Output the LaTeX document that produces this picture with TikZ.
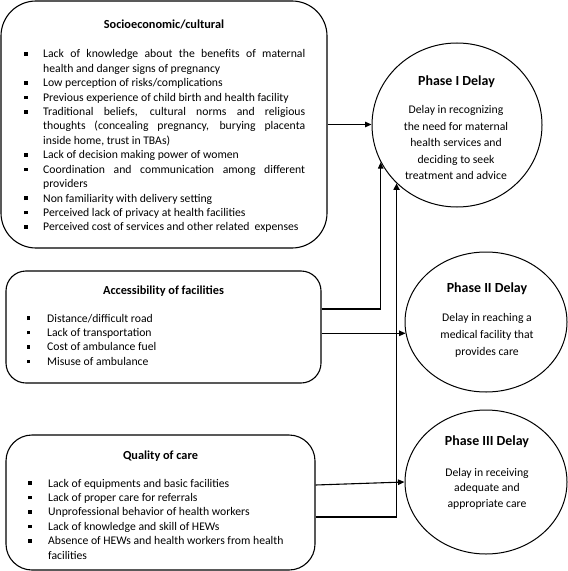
\documentclass[tikz,border=0pt]{standalone}
\usepackage{fontspec}
\setmainfont{Carlito}
\usetikzlibrary{arrows.meta,shapes.geometric}
\newlength{\bulind}
\newcommand{\bitem}{\par\noindent\hangindent=\bulind\hangafter=1\hbox to \bulind{\rule[2bp]{3.6bp}{3.6bp}\hfil}\ignorespaces}
\newcommand{\bodyf}{\fontsize{11.7bp}{14.4bp}\selectfont}
\newcommand{\ttlf}{\fontsize{12.3bp}{14bp}\selectfont\bfseries}
\newcommand{\phf}{\fontsize{13.9bp}{16bp}\selectfont\bfseries}
\begin{document}
\begin{tikzpicture}[x=1bp,y=-1bp,
  box/.style={draw, line width=1.1bp, inner sep=0pt},
  ell/.style={draw, ellipse, line width=1bp, inner sep=0pt},
  txt/.style={inner sep=0pt},
  conn/.style={line width=1.1bp, -{Triangle[length=6.5bp,width=5.5bp]}},
  thickconn/.style={line width=1.8bp, -{Triangle[length=6.5bp,width=6bp]}}]
\useasboundingbox (0,0) rectangle (568,571);

% factor boxes
\node[box, rounded corners=35bp, minimum width=326bp, minimum height=247bp] (b1) at (164,124.5) {};
\node[box, rounded corners=20bp, minimum width=315bp, minimum height=112bp] (b2) at (163.5,327) {};
\node[box, rounded corners=26bp, minimum width=309bp, minimum height=135bp] (b3) at (160.5,502.5) {};

% phase circles
\node[ell, minimum width=170bp, minimum height=164bp] (p1) at (457,125) {};
\node[ell, minimum width=162bp, minimum height=140bp] (p2) at (486,322) {};
\node[ell, minimum width=162bp, minimum height=144bp] (p3) at (486,482) {};

% box texts
\node[txt, anchor=base] (b1t) at (164,29) {\ttlf Socioeconomic/cultural};
\node[txt, anchor=base west] (b1l) at (24,58) {\parbox[t]{281bp}{\bodyf\setlength{\bulind}{19bp}\spaceskip=0.22em plus 1em minus 0.05em
\bitem Lack of knowledge about the benefits of maternal\linebreak health and danger signs of pregnancy
\bitem Low perception of risks/complications
\bitem Previous experience of child birth and health facility
\bitem Traditional beliefs, cultural norms and religious\linebreak thoughts (concealing pregnancy, burying placenta\linebreak inside home, trust in TBAs)
\bitem Lack of decision making power of women
\bitem Coordination and communication among different\linebreak providers
\bitem Non familiarity with delivery setting
\bitem Perceived lack of privacy at health facilities
\bitem Perceived cost of services and other related \ expenses}};

\node[txt, anchor=base] (b2t) at (163.5,294) {\ttlf Accessibility of facilities};
\node[txt, anchor=base west] (b2l) at (26.5,322) {\parbox[t]{270bp}{\bodyf\setlength{\bulind}{20.5bp}
\bitem Distance/difficult road
\bitem Lack of transportation
\bitem Cost of ambulance fuel
\bitem Misuse of ambulance}};

\node[txt, anchor=base] (b3t) at (160.5,459) {\ttlf Quality of care};
\node[txt, anchor=base west] (b3l) at (28.3,487) {\parbox[t]{275bp}{\raggedright\bodyf\setlength{\bulind}{19.7bp}
\bitem Lack of equipments and basic facilities
\bitem Lack of proper care for referrals
\bitem Unprofessional behavior of health workers
\bitem Lack of knowledge and skill of HEWs
\bitem Absence of HEWs and health workers from health\newline facilities}};

% circle texts
\node[txt, anchor=base] (p1t) at (456.5,85.5) {\phf Phase I Delay};
\node[txt, anchor=base] (p1b) at (456,114) {\parbox[t]{150bp}{\centering\fontsize{11.7bp}{16.4bp}\selectfont Delay in recognizing\\ the need for maternal\\ health services and\\ deciding to seek\\ treatment and advice}};
\node[txt, anchor=base] (p2t) at (487,292.5) {\phf Phase II Delay};
\node[txt, anchor=base] (p2b) at (487,321) {\parbox[t]{150bp}{\centering\fontsize{11.7bp}{17bp}\selectfont Delay in reaching a\\ medical facility that\\ provides care}};
\node[txt, anchor=base] (p3t) at (487,445.5) {\phf Phase III Delay};
\node[txt, anchor=base] (p3b) at (487,476) {\parbox[t]{150bp}{\centering\fontsize{11.7bp}{15.5bp}\selectfont Delay in receiving\\ adequate and\\ appropriate care}};

% connectors
\draw[conn] (b1.east) -- (b1.east -| p1.west);
\draw[conn] (b2.east |- 0,309) -| (p1.206);
\draw[conn] (b2.east |- p2.188) -- (p2.188);
\draw[conn] (b3.east |- 0,485) -- (p3.west);
\draw[thickconn] (b3.east |- 0,517) -| (p1.south west);
\end{tikzpicture}
\end{document}
